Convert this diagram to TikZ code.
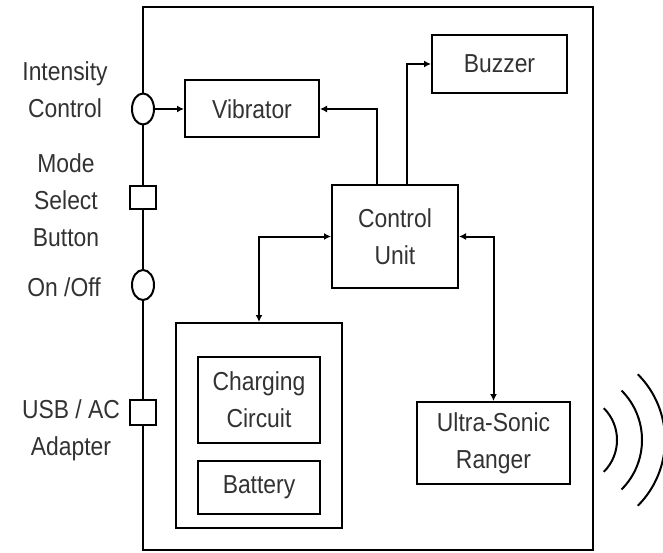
\documentclass[tikz,border=0pt]{standalone}
\usepackage{fontspec}
\setmainfont{Liberation Sans}[FakeStretch=0.88]
\usetikzlibrary{shapes.geometric,arrows.meta}
\definecolor{txtgray}{RGB}{50,50,50}
\tikzset{
  box/.style={draw,line width=2pt,minimum width=#1,inner sep=0pt,
    text=txtgray,align=center,font=\fontsize{26}{37}\selectfont},
  lbl/.style={text=txtgray,align=center,font=\fontsize{26}{37}\selectfont},
  knob/.style={draw,ellipse,fill=white,line width=2pt,
    minimum width=22pt,minimum height=31pt,inner sep=0pt},
  btn/.style={draw,fill=white,line width=2pt,
    minimum width=26pt,minimum height=23pt,inner sep=0pt},
  arr/.style={line width=2pt,-{Latex[length=7pt,width=7pt]}},
  arr2/.style={line width=2pt,{Latex[length=7pt,width=7pt]}-{Latex[length=7pt,width=7pt]}}
}
\begin{document}
\begin{tikzpicture}[x=1pt,y=-1pt]

\useasboundingbox (0,0) rectangle (663,553);

% Housing
\draw[line width=2pt] (143,7) rectangle (593,550);

% Blocks
\node[box=134pt,minimum height=57pt] (vib) at (252,109) {Vibrator};
\node[box=135pt,minimum height=58pt] (buzz) at (499.5,64) {Buzzer};
\node[box=126pt,minimum height=103pt] (ctrl) at (395,236.5) {Control\\Unit};
\node[box=166pt,minimum height=205pt] (pwr) at (259,425.5) {};
\node[box=122pt,minimum height=86pt] (chg) at (259,400) {Charging\\Circuit};
\node[box=122pt,minimum height=53pt] (bat) at (259,487.5) {Battery};
\node[box=153pt,minimum height=82pt] (usr) at (493.5,443) {Ultra-Sonic\\Ranger};

% Inputs
\node[knob] (knobi) at (143,109) {};
\node[btn] (btnm) at (143,198) {};
\node[knob,minimum height=30pt] (knobo) at (143,285) {};
\node[btn,minimum height=25pt] (usb) at (143,412) {};

\node[lbl] (lint) at (65,90) {Intensity\\Control};
\node[lbl] (lmode) at (66,200) {Mode\\Select\\Button};
\node[lbl] (lonoff) at (64,287) {On /Off};
\node[lbl] (lusb) at (71,430) {USB / AC\\Adapter};

% Links
\draw[arr] (knobi.east) -- (vib.west);
\draw[arr] ([xshift=-18pt]ctrl.north) |- (vib.east);
\draw[arr] ([xshift=12pt]ctrl.north) |- (buzz.west);
\draw[arr2] (ctrl.east) -| (usr.north);
\draw[arr2] (ctrl.west) -| (pwr.north);

% Sound waves
\draw[line width=2pt] (572,440) ++(-45:45)
arc[start angle=-45,end angle=45,radius=45];
\draw[line width=2pt] (572,440) ++(-45:70)
arc[start angle=-45,end angle=45,radius=70];
\draw[line width=2pt] (572,440) ++(-45:93)
arc[start angle=-45,end angle=45,radius=93];

\end{tikzpicture}
\end{document}
